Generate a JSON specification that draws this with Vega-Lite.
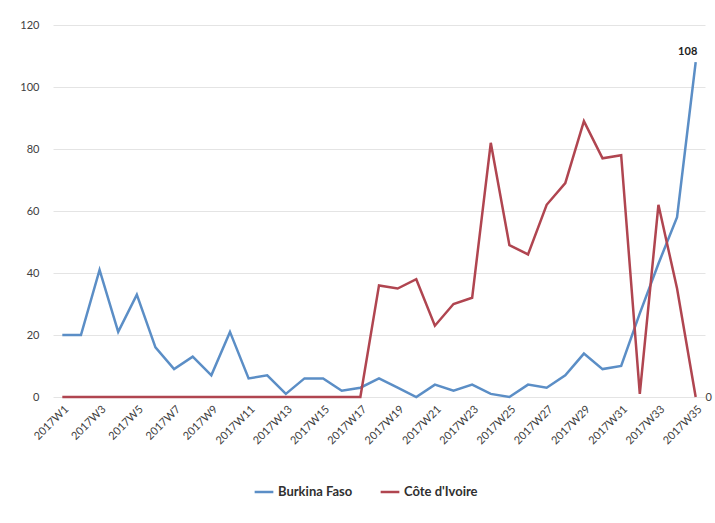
{
  "$schema": "https://vega.github.io/schema/vega-lite/v6.json",
  "autosize": {"type": "none"},
  "width": 652,
  "height": 372,
  "padding": {"left": 53, "top": 25, "right": 10, "bottom": 126},
  "background": "white",
  "config": {
    "font": "Lato",
    "view": {"stroke": null},
    "axis": {"domain": false, "ticks": false, "labelColor": "#404040", "labelFont": "Lato", "labelFontSize": 11}
  },
  "data": {"values": [
    {"week": "2017W1", "country": "Burkina Faso", "cases": 20},
    {"week": "2017W2", "country": "Burkina Faso", "cases": 20},
    {"week": "2017W3", "country": "Burkina Faso", "cases": 41},
    {"week": "2017W4", "country": "Burkina Faso", "cases": 21},
    {"week": "2017W5", "country": "Burkina Faso", "cases": 33},
    {"week": "2017W6", "country": "Burkina Faso", "cases": 16},
    {"week": "2017W7", "country": "Burkina Faso", "cases": 9},
    {"week": "2017W8", "country": "Burkina Faso", "cases": 13},
    {"week": "2017W9", "country": "Burkina Faso", "cases": 7},
    {"week": "2017W10", "country": "Burkina Faso", "cases": 21},
    {"week": "2017W11", "country": "Burkina Faso", "cases": 6},
    {"week": "2017W12", "country": "Burkina Faso", "cases": 7},
    {"week": "2017W13", "country": "Burkina Faso", "cases": 1},
    {"week": "2017W14", "country": "Burkina Faso", "cases": 6},
    {"week": "2017W15", "country": "Burkina Faso", "cases": 6},
    {"week": "2017W16", "country": "Burkina Faso", "cases": 2},
    {"week": "2017W17", "country": "Burkina Faso", "cases": 3},
    {"week": "2017W18", "country": "Burkina Faso", "cases": 6},
    {"week": "2017W19", "country": "Burkina Faso", "cases": 3},
    {"week": "2017W20", "country": "Burkina Faso", "cases": 0},
    {"week": "2017W21", "country": "Burkina Faso", "cases": 4},
    {"week": "2017W22", "country": "Burkina Faso", "cases": 2},
    {"week": "2017W23", "country": "Burkina Faso", "cases": 4},
    {"week": "2017W24", "country": "Burkina Faso", "cases": 1},
    {"week": "2017W25", "country": "Burkina Faso", "cases": 0},
    {"week": "2017W26", "country": "Burkina Faso", "cases": 4},
    {"week": "2017W27", "country": "Burkina Faso", "cases": 3},
    {"week": "2017W28", "country": "Burkina Faso", "cases": 7},
    {"week": "2017W29", "country": "Burkina Faso", "cases": 14},
    {"week": "2017W30", "country": "Burkina Faso", "cases": 9},
    {"week": "2017W31", "country": "Burkina Faso", "cases": 10},
    {"week": "2017W32", "country": "Burkina Faso", "cases": 27},
    {"week": "2017W33", "country": "Burkina Faso", "cases": 43},
    {"week": "2017W34", "country": "Burkina Faso", "cases": 58},
    {"week": "2017W35", "country": "Burkina Faso", "cases": 108},
    {"week": "2017W1", "country": "Côte d'Ivoire", "cases": 0},
    {"week": "2017W2", "country": "Côte d'Ivoire", "cases": 0},
    {"week": "2017W3", "country": "Côte d'Ivoire", "cases": 0},
    {"week": "2017W4", "country": "Côte d'Ivoire", "cases": 0},
    {"week": "2017W5", "country": "Côte d'Ivoire", "cases": 0},
    {"week": "2017W6", "country": "Côte d'Ivoire", "cases": 0},
    {"week": "2017W7", "country": "Côte d'Ivoire", "cases": 0},
    {"week": "2017W8", "country": "Côte d'Ivoire", "cases": 0},
    {"week": "2017W9", "country": "Côte d'Ivoire", "cases": 0},
    {"week": "2017W10", "country": "Côte d'Ivoire", "cases": 0},
    {"week": "2017W11", "country": "Côte d'Ivoire", "cases": 0},
    {"week": "2017W12", "country": "Côte d'Ivoire", "cases": 0},
    {"week": "2017W13", "country": "Côte d'Ivoire", "cases": 0},
    {"week": "2017W14", "country": "Côte d'Ivoire", "cases": 0},
    {"week": "2017W15", "country": "Côte d'Ivoire", "cases": 0},
    {"week": "2017W16", "country": "Côte d'Ivoire", "cases": 0},
    {"week": "2017W17", "country": "Côte d'Ivoire", "cases": 0},
    {"week": "2017W18", "country": "Côte d'Ivoire", "cases": 36},
    {"week": "2017W19", "country": "Côte d'Ivoire", "cases": 35},
    {"week": "2017W20", "country": "Côte d'Ivoire", "cases": 38},
    {"week": "2017W21", "country": "Côte d'Ivoire", "cases": 23},
    {"week": "2017W22", "country": "Côte d'Ivoire", "cases": 30},
    {"week": "2017W23", "country": "Côte d'Ivoire", "cases": 32},
    {"week": "2017W24", "country": "Côte d'Ivoire", "cases": 82},
    {"week": "2017W25", "country": "Côte d'Ivoire", "cases": 49},
    {"week": "2017W26", "country": "Côte d'Ivoire", "cases": 46},
    {"week": "2017W27", "country": "Côte d'Ivoire", "cases": 62},
    {"week": "2017W28", "country": "Côte d'Ivoire", "cases": 69},
    {"week": "2017W29", "country": "Côte d'Ivoire", "cases": 89},
    {"week": "2017W30", "country": "Côte d'Ivoire", "cases": 77},
    {"week": "2017W31", "country": "Côte d'Ivoire", "cases": 78},
    {"week": "2017W32", "country": "Côte d'Ivoire", "cases": 1},
    {"week": "2017W33", "country": "Côte d'Ivoire", "cases": 62},
    {"week": "2017W34", "country": "Côte d'Ivoire", "cases": 35},
    {"week": "2017W35", "country": "Côte d'Ivoire", "cases": 0}
  ]},
  "encoding": {
    "x": {
      "field": "week", "type": "ordinal", "sort": null, "title": null,
      "scale": {"type": "point", "padding": 0.5},
      "axis": {
        "labelAngle": -45, "grid": false, "labelPadding": 6,
        "values": ["2017W1","2017W3","2017W5","2017W7","2017W9","2017W11","2017W13","2017W15","2017W17","2017W19","2017W21","2017W23","2017W25","2017W27","2017W29","2017W31","2017W33","2017W35"]
      }
    },
    "y": {
      "field": "cases", "type": "quantitative", "title": null,
      "scale": {"domain": [0, 120], "nice": false},
      "axis": {"values": [0, 20, 40, 60, 80, 100, 120], "gridColor": "#e4e4e4", "gridWidth": 1, "labelPadding": 14}
    },
    "color": {
      "field": "country", "type": "nominal", "title": null,
      "scale": {"domain": ["Burkina Faso", "Côte d'Ivoire"], "range": ["#5b8ec6", "#b04550"]},
      "legend": {
        "orient": "none", "legendX": 200, "legendY": 456, "direction": "horizontal",
        "symbolType": "stroke", "symbolStrokeWidth": 2.5, "symbolSize": 350,
        "labelFontSize": 13, "labelColor": "#303030", "labelFontWeight": "bold", "columnPadding": 22, "labelOffset": 3
      }
    }
  },
  "layer": [
    {"mark": {"type": "line", "strokeWidth": 2.5}},
    {
      "transform": [{"filter": "datum.week === '2017W35' && datum.country === 'Burkina Faso'"}],
      "mark": {"type": "text", "fontWeight": "bold", "fontSize": 11, "dx": -8, "dy": -10, "color": "#222222"},
      "encoding": {"text": {"field": "cases", "type": "quantitative"}, "color": {"value": "#222222"}}
    },
    {
      "transform": [{"filter": "datum.week === '2017W35' && datum.country === \"Côte d'Ivoire\""}],
      "mark": {"type": "text", "fontSize": 11, "dx": 13, "dy": 1, "color": "#404040"},
      "encoding": {"text": {"field": "cases", "type": "quantitative"}, "color": {"value": "#404040"}}
    }
  ]
}
